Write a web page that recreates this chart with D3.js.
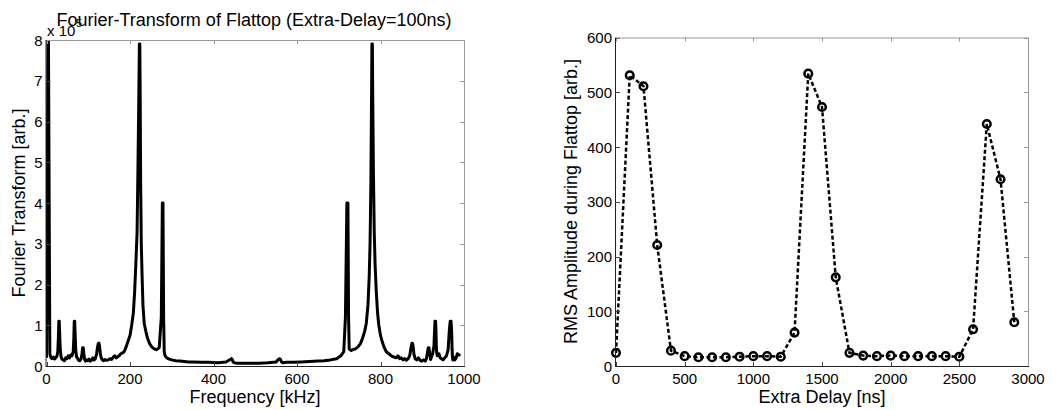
<!DOCTYPE html>
<html><head><meta charset="utf-8">
<script src="https://cdn.jsdelivr.net/npm/d3@7"></script>
<style>
html,body{margin:0;padding:0;background:#fff;}
svg{display:block;font-family:"Liberation Sans",Arial,Helvetica,sans-serif;}
</style></head>
<body>
<svg id="c" width="1059" height="410"></svg>
<script>
// ---------- DATA ----------
// Left panel: Fourier transform of flattop (values in units of 1e5)
const specFreq = [0,4,8,10,13,16,19,22,25,27,28.5,29.5,30.5,31.5,33,35,37,40,43,46,49,52,55,58,61,64,65.5,66.5,67.5,68.5,70,72,74,77,80,83,85,86.5,88,89.5,91,93,96,99,102,105,108,111,114,117,120,122,124,125.5,127,129,131,134,137,140,144,148,152,156,160,164,167,170,174,178,182,186,190,195,200,204,208,211,214,217,219,221,222.5,223.5,224.5,225.5,227,229,231,234,238,242,247,252,258,264,270,275,277.5,279,280.5,282,284,288,294,300,310,320,330,340,350,370,390,410,430,440,443,445,447,450,455,470,490,510,530,550,555,558,560.5,563,566,575,590,610,630,650,665,680,695,705,712,716,719.5,722,723.5,725,727,730,734,740,746,752,757,762,766,770,773,775,777,778.5,779.5,780.5,781.5,783,785,787,790,793,796,800,804,809,814,820,826,832,838,842,846,850,854,858,862,866,870,873,875.5,877,878.5,880,883,887,891,895,899,903,907,910,912,914.5,916,918,920,922,925,928,930.5,932,933,934,935,936,937.5,940,943,946,950,954,958,962,965,967,969,970.5,971.5,972.5,973.5,975,978,981,984,987,991,994,997,1000];
const specAmp  = [0.2,9.5,0.3,0.22,0.18,0.22,0.17,0.2,0.24,0.35,0.7,1.1,1.1,0.8,0.4,0.22,0.17,0.15,0.13,0.2,0.18,0.25,0.2,0.27,0.25,0.35,0.7,1.1,1.1,0.8,0.4,0.22,0.2,0.14,0.13,0.18,0.3,0.45,0.45,0.3,0.18,0.12,0.15,0.13,0.17,0.12,0.14,0.2,0.15,0.18,0.3,0.45,0.55,0.56,0.5,0.3,0.2,0.15,0.13,0.16,0.14,0.15,0.18,0.16,0.22,0.25,0.2,0.22,0.25,0.3,0.32,0.35,0.45,0.6,0.75,1.0,1.3,1.8,2.5,3.3,4.8,6.5,7.9,7.9,6.5,4.5,3.0,2.2,1.5,1.05,0.85,0.68,0.55,0.47,0.42,0.4,0.45,1.2,4.0,4.0,1.2,0.35,0.25,0.2,0.17,0.15,0.13,0.12,0.11,0.1,0.1,0.09,0.09,0.08,0.1,0.16,0.18,0.16,0.1,0.08,0.07,0.07,0.07,0.07,0.08,0.1,0.16,0.18,0.16,0.1,0.08,0.09,0.09,0.1,0.11,0.12,0.13,0.15,0.18,0.25,0.35,1.2,4.0,4.0,1.2,0.42,0.4,0.38,0.4,0.42,0.47,0.55,0.68,0.85,1.05,1.5,2.2,3.0,4.5,6.5,7.9,7.9,6.5,4.8,3.3,2.5,1.8,1.3,1.0,0.75,0.6,0.45,0.35,0.3,0.25,0.22,0.2,0.25,0.18,0.2,0.15,0.18,0.14,0.18,0.25,0.45,0.56,0.55,0.45,0.3,0.18,0.15,0.2,0.14,0.12,0.15,0.12,0.18,0.3,0.45,0.45,0.3,0.16,0.22,0.3,0.5,1.1,1.1,0.8,0.4,0.3,0.25,0.28,0.3,0.2,0.18,0.15,0.2,0.25,0.4,0.9,1.1,1.1,0.8,0.4,0.2,0.15,0.22,0.15,0.2,0.3,0.28,0.25];
const leftXTicks = [0,200,400,600,800,1000];
const leftYTicks = [0,1,2,3,4,5,6,7,8];

// Right panel: RMS amplitude vs extra delay
const delayNs = [0,100,200,300,400,500,600,700,800,900,1000,1100,1200,1300,1400,1500,1600,1700,1800,1900,2000,2100,2200,2300,2400,2500,2600,2700,2800,2900];
const rmsAmp  = [24,531,511,221,28,18,16,16,16,17,18,18,17,61,534,473,162,24,19,18,19,18,18,18,18,17,67,442,341,80];
const rightXTicks = [0,500,1000,1500,2000,2500,3000];
const rightYTicks = [0,100,200,300,400,500,600];

// ---------- DRAW ----------
const svg = d3.select("#c");
const TICK_FONT = 15, LABEL_FONT = 18;

function frame(g, x, y, xt, yt, fmtY) {
  const [x0, x1] = x.range(), [y0, y1] = y.range(); // y0 bottom, y1 top
  const tl = 4;
  // ticks (inward, all sides)
  xt.forEach(v => {
    const px = Math.round(x(v)) + 0.5;
    g.append("line").attr("x1", px).attr("x2", px).attr("y1", y0).attr("y2", y0 - tl).attr("stroke", "#444");
    g.append("line").attr("x1", px).attr("x2", px).attr("y1", y1).attr("y2", y1 + tl).attr("stroke", "#999");
    g.append("text").attr("x", x(v)).attr("y", y0 + 18).attr("text-anchor", "middle")
      .attr("font-size", TICK_FONT).attr("fill", "#000").text(v);
  });
  yt.forEach(v => {
    const py = Math.round(y(v)) + 0.5;
    g.append("line").attr("x1", x0).attr("x2", x0 + tl).attr("y1", py).attr("y2", py).attr("stroke", "#444");
    g.append("line").attr("x1", x1).attr("x2", x1 - tl).attr("y1", py).attr("y2", py).attr("stroke", "#999");
    g.append("text").attr("x", x0 - 4).attr("y", y(v) + 5.5).attr("text-anchor", "end")
      .attr("font-size", TICK_FONT).attr("fill", "#000").text(fmtY ? fmtY(v) : v);
  });
  // box
  g.append("line").attr("x1", x0).attr("x2", x1).attr("y1", y1 + 0.5).attr("y2", y1 + 0.5).attr("stroke", "#999");
  g.append("line").attr("x1", x1 + 0.5).attr("x2", x1 + 0.5).attr("y1", y1).attr("y2", y0).attr("stroke", "#999");
  g.append("line").attr("x1", x0 - 0.5).attr("x2", x1 + 1).attr("y1", y0 + 0.5).attr("y2", y0 + 0.5).attr("stroke", "#222");
  g.append("line").attr("x1", x0 - 0.5).attr("x2", x0 - 0.5).attr("y1", y1).attr("y2", y0 + 1).attr("stroke", "#222");
}

// ----- Left panel -----
const xL = d3.scaleLinear().domain([0, 1000]).range([46.5, 464]);
const yL = d3.scaleLinear().domain([0, 8]).range([366, 40]);
const gL = svg.append("g");
svg.append("defs").append("clipPath").attr("id", "clipL")
  .append("rect").attr("x", 46).attr("y", 40).attr("width", 464 - 46).attr("height", 366 - 40);

const specData = specFreq.map((f, i) => [f, specAmp[i]]);
gL.append("path").datum(specData)
  .attr("clip-path", "url(#clipL)")
  .attr("fill", "none").attr("stroke", "#000").attr("stroke-width", 3)
  .attr("stroke-linejoin", "round")
  .attr("d", d3.line().x(d => xL(d[0])).y(d => yL(d[1])));
frame(gL, xL, yL, leftXTicks, leftYTicks);

gL.append("text").attr("x", 47).attr("y", 36).attr("font-size", TICK_FONT).text("x 10");
gL.append("text").attr("x", 76).attr("y", 27).attr("font-size", 11).text("5");
gL.append("text").attr("x", 255).attr("y", 403).attr("text-anchor", "middle")
  .attr("font-size", LABEL_FONT).text("Frequency [kHz]");
gL.append("text").attr("transform", "translate(25,203) rotate(-90)").attr("text-anchor", "middle")
  .attr("font-size", LABEL_FONT).text("Fourier Transform [arb.]");
gL.append("text").attr("x", 254).attr("y", 26).attr("text-anchor", "middle")
  .attr("font-size", LABEL_FONT).text("Fourier-Transform of Flattop (Extra-Delay=100ns)");

// ----- Right panel -----
const xR = d3.scaleLinear().domain([0, 3000]).range([616, 1028]);
const yR = d3.scaleLinear().domain([0, 600]).range([366, 37.5]);
const gR = svg.append("g");
const rmsData = delayNs.map((d, i) => [d, rmsAmp[i]]);
gR.append("path").datum(rmsData)
  .attr("fill", "none").attr("stroke", "#000").attr("stroke-width", 2.5)
  .attr("stroke-dasharray", "4,2.5")
  .attr("d", d3.line().x(d => xR(d[0])).y(d => yR(d[1])));
gR.selectAll("circle.m").data(rmsData).enter().append("circle")
  .attr("cx", d => xR(d[0])).attr("cy", d => yR(d[1])).attr("r", 3.8)
  .attr("fill", "none").attr("stroke", "#000").attr("stroke-width", 2.5);
frame(gR, xR, yR, rightXTicks, rightYTicks);
gR.append("text").attr("x", 822).attr("y", 403).attr("text-anchor", "middle")
  .attr("font-size", LABEL_FONT).text("Extra Delay [ns]");
gR.append("text").attr("transform", "translate(577,201.5) rotate(-90)").attr("text-anchor", "middle")
  .attr("font-size", LABEL_FONT).text("RMS Amplitude during Flattop [arb.]");
</script>
</body></html>
